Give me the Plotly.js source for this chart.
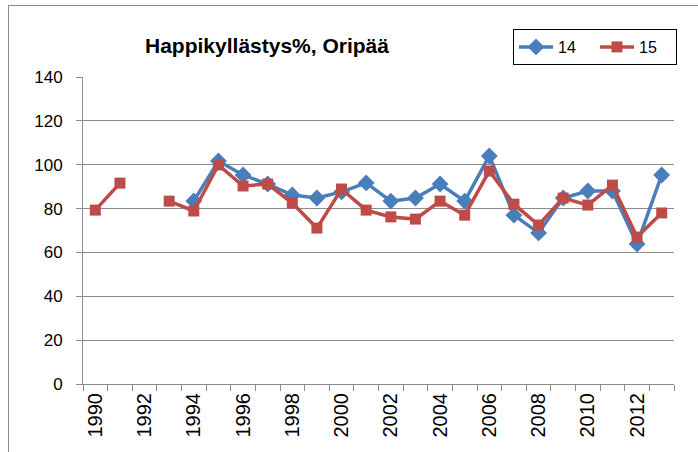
<!DOCTYPE html>
<html>
<head>
<meta charset="utf-8">
<script src="https://cdn.plot.ly/plotly-3.0.1.min.js"></script>
<style>
  html, body { margin: 0; padding: 0; background: #ffffff; }
  #wrap { position: relative; width: 698px; height: 452px; overflow: hidden; }
  #chart { width: 698px; height: 452px; }
  #frame { position: absolute; left: 8px; top: 5px; width: 720px; height: 480px;
           border-top: 1px solid #8c8c8c; border-left: 1px solid #8c8c8c; pointer-events: none; }
</style>
</head>
<body>
<div id="wrap">
  <div id="chart"></div>
  <div id="frame"></div>
</div>
<script>
const years = ['1990','1991','1992','1993','1994','1995','1996','1997','1998','1999','2000','2001',
               '2002','2003','2004','2005','2006','2007','2008','2009','2010','2011','2012','2013'];
const tickLabels = ['1990','','1992','','1994','','1996','','1998','','2000','',
                    '2002','','2004','','2006','','2008','','2010','','2012',''];
const series14 = [null, null, null, null, 83.5, 101.7, 95.3, 91.2, 86.2, 84.8, 87.6, 91.7,
                  83.4, 84.8, 91.2, 83.4, 104, 77, 68.9, 84.8, 88, 88, 63.8, 95.3];
const series15 = [79.3, 91.6, null, 83.4, 78.9, 99.9, 90.3, 91.2, 82.5, 71.1, 88.9, 79.3,
                  76.2, 75.2, 83.4, 77, 97.1, 82, 72.5, 84.8, 81.6, 90.7, 67, 78];
const yTicks = [0, 20, 40, 60, 80, 100, 120, 140];

const traces = [
  {
    x: years, y: series14, name: '14', type: 'scatter', mode: 'lines+markers',
    connectgaps: false,
    line: { color: '#4A7EBB', width: 3.5 },
    marker: { symbol: 'diamond', size: 13, color: '#4A7EBB' }
  },
  {
    x: years, y: series15, name: '15', type: 'scatter', mode: 'lines+markers',
    connectgaps: false,
    line: { color: '#BE4B48', width: 3.5 },
    marker: { symbol: 'square', size: 11, color: '#BE4B48' }
  }
];

const layout = {
  width: 698, height: 452,
  margin: { l: 83, r: 24, t: 77, b: 68, autoexpand: false },
  paper_bgcolor: '#ffffff', plot_bgcolor: '#ffffff',
  showlegend: true,
  title: {
    text: '<b>Happikyllästys%, Oripää</b>',
    font: { family: 'Liberation Sans, Arial', size: 21, color: '#000000' },
    x: 267 / 698, xanchor: 'center', xref: 'container',
    y: 1 - 46 / 452, yanchor: 'middle', yref: 'container'
  },
  legend: {
    orientation: 'h',
    xref: 'container', yref: 'container',
    x: 513 / 698, xanchor: 'left',
    y: 1 - 29 / 452, yanchor: 'top',
    bordercolor: '#000000', borderwidth: 1,
    bgcolor: '#ffffff',
    font: { family: 'Liberation Sans, Arial', size: 16, color: '#000000' },
    traceorder: 'normal', itemwidth: 34,
    entrywidth: 32, entrywidthmode: 'pixels',
    tracegroupgap: 0
  },
  xaxis: {
    type: 'category',
    tickmode: 'array', tickvals: years, ticktext: tickLabels,
    tickson: 'boundaries',
    range: [-0.5, 23.5],
    ticks: 'outside', ticklen: 6, tickcolor: '#8c8c8c', tickwidth: 1,
    tickangle: -90,
    tickfont: { family: 'Liberation Sans, Arial', size: 20, color: '#000000' },
    showline: true, linecolor: '#8c8c8c', linewidth: 1,
    showgrid: false, zeroline: false
  },
  yaxis: {
    range: [0, 140],
    tickmode: 'array', tickvals: yTicks,
    ticks: 'outside', ticklen: 6, tickcolor: '#8c8c8c', tickwidth: 1,
    ticklabelstandoff: 10,
    tickfont: { family: 'Liberation Sans, Arial', size: 17, color: '#000000' },
    showline: true, linecolor: '#8c8c8c', linewidth: 1,
    showgrid: true, gridcolor: '#8c8c8c', gridwidth: 1,
    zeroline: false
  }
};

Plotly.newPlot('chart', traces, layout, { displayModeBar: false, staticPlot: true });
</script>
</body>
</html>
